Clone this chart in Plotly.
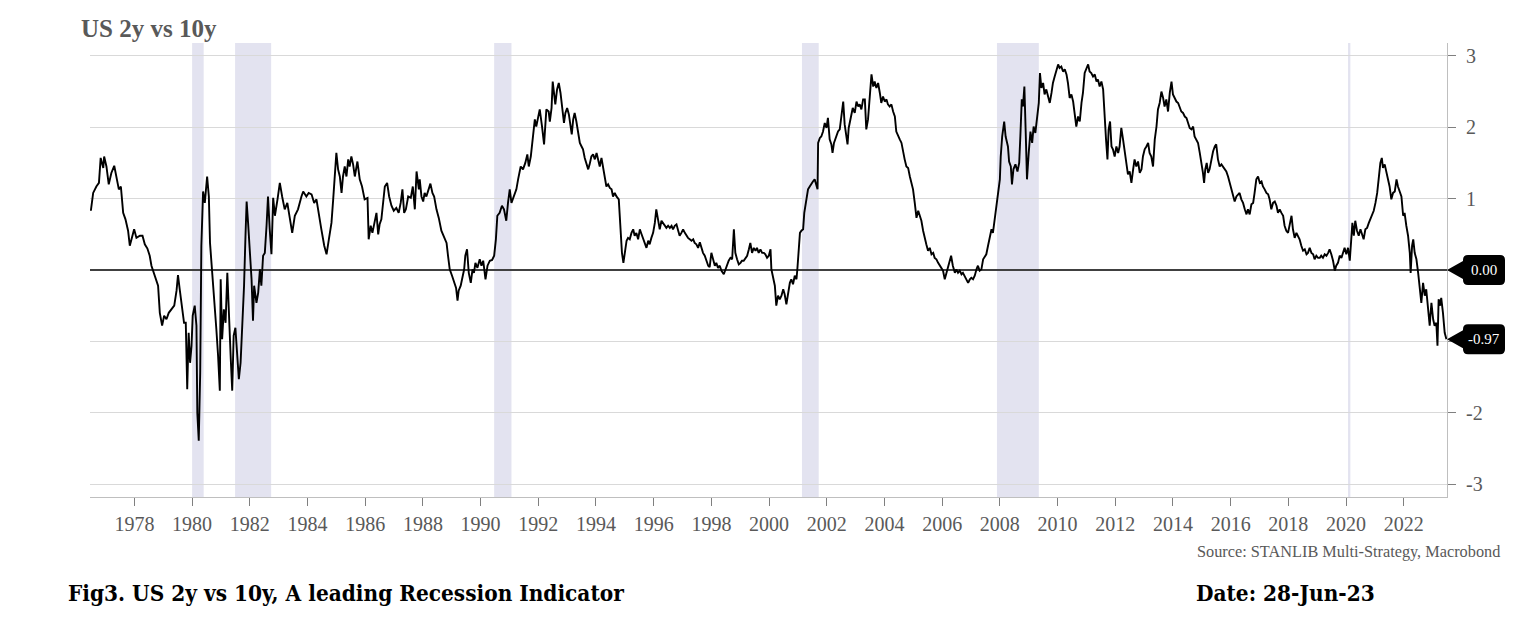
import plotly.graph_objects as go

# ---------------- data (decimal year, spread in %-points) ----------------
SPREAD_1976_1984 = [
    (1976.49, 0.83), (1976.57, 1.08), (1976.68, 1.17), (1976.77, 1.22), (1976.83, 1.57), (1976.92, 1.43),
    (1976.95, 1.59), (1977.03, 1.45), (1977.11, 1.20), (1977.20, 1.36), (1977.30, 1.46), (1977.38, 1.27),
    (1977.46, 1.13), (1977.53, 1.17), (1977.61, 0.80), (1977.69, 0.71), (1977.78, 0.55), (1977.84, 0.34),
    (1977.90, 0.43), (1977.99, 0.57), (1978.07, 0.45), (1978.19, 0.48), (1978.28, 0.48), (1978.36, 0.36),
    (1978.45, 0.30), (1978.53, 0.20), (1978.59, 0.06), (1978.68, -0.04), (1978.76, -0.15), (1978.82, -0.22),
    (1978.88, -0.60), (1978.96, -0.78), (1979.03, -0.64), (1979.11, -0.69), (1979.19, -0.60), (1979.28, -0.55),
    (1979.38, -0.50), (1979.46, -0.29), (1979.51, -0.07), (1979.57, -0.27), (1979.63, -0.46), (1979.72, -0.74),
    (1979.78, -0.74), (1979.83, -1.67), (1979.88, -0.88), (1979.93, -1.30), (1979.98, -1.06), (1980.02, -0.64),
    (1980.09, -0.50), (1980.15, -0.78), (1980.18, -2.00), (1980.23, -2.39), (1980.28, -1.44), (1980.32, 0.34),
    (1980.38, 1.10), (1980.44, 0.94), (1980.52, 1.31), (1980.58, 1.03), (1980.62, 0.38), (1980.69, 0.01),
    (1980.76, -0.32), (1980.84, -0.83), (1980.90, -1.20), (1980.96, -1.69), (1980.99, -0.13), (1981.04, -0.97),
    (1981.10, -0.55), (1981.16, -0.74), (1981.22, -0.04), (1981.28, -0.74), (1981.34, -1.25), (1981.39, -1.69),
    (1981.44, -0.92), (1981.50, -0.81), (1981.56, -1.20), (1981.62, -1.53), (1981.68, -1.30), (1981.73, -0.88),
    (1981.80, -0.22), (1981.85, 0.48), (1981.89, 0.96), (1981.94, 0.66), (1982.00, 0.24), (1982.06, -0.13),
    (1982.11, -0.71), (1982.15, -0.22), (1982.23, -0.46), (1982.29, -0.32), (1982.35, 0.01), (1982.40, -0.22),
    (1982.46, 0.20), (1982.52, 0.24), (1982.58, 0.62), (1982.63, 1.03), (1982.69, 0.57), (1982.75, 0.22),
    (1982.81, 1.01), (1982.87, 0.76), (1982.96, 0.99), (1983.04, 1.22), (1983.12, 1.03), (1983.21, 0.85),
    (1983.30, 0.94), (1983.39, 0.71), (1983.47, 0.52), (1983.56, 0.76), (1983.67, 0.85), (1983.79, 1.03),
    (1983.85, 1.10), (1983.96, 1.03), (1984.04, 1.08), (1984.14, 1.06), (1984.23, 0.94), (1984.31, 0.99),
    (1984.43, 0.66),
]
SPREAD_1984_1992 = [
    (1984.48, 0.57), (1984.58, 0.34), (1984.66, 0.22), (1984.74, 0.43), (1984.83, 0.66), (1984.89, 0.99),
    (1984.94, 1.31), (1985.00, 1.64), (1985.06, 1.41), (1985.12, 1.31), (1985.18, 1.08), (1985.23, 1.31),
    (1985.29, 1.45), (1985.35, 1.31), (1985.41, 1.55), (1985.46, 1.45), (1985.52, 1.59), (1985.58, 1.48),
    (1985.64, 1.31), (1985.73, 1.52), (1985.81, 1.27), (1985.89, 1.17), (1985.98, 0.99), (1986.08, 1.01),
    (1986.12, 0.43), (1986.19, 0.62), (1986.25, 0.52), (1986.33, 0.69), (1986.39, 0.80), (1986.45, 0.50),
    (1986.50, 0.64), (1986.56, 0.71), (1986.62, 0.90), (1986.68, 1.17), (1986.76, 1.22), (1986.83, 1.03),
    (1986.91, 0.90), (1986.99, 0.83), (1987.08, 0.87), (1987.16, 0.80), (1987.23, 0.94), (1987.29, 1.13),
    (1987.35, 0.80), (1987.41, 0.85), (1987.49, 1.03), (1987.58, 1.01), (1987.65, 1.17), (1987.72, 0.85),
    (1987.78, 1.38), (1987.86, 1.13), (1987.89, 1.27), (1987.95, 1.03), (1988.01, 0.96), (1988.06, 1.08),
    (1988.12, 1.03), (1988.18, 1.10), (1988.26, 1.21), (1988.33, 1.08), (1988.39, 1.03), (1988.47, 0.85),
    (1988.55, 0.73), (1988.64, 0.55), (1988.76, 0.43), (1988.82, 0.38), (1988.87, 0.20), (1988.93, 0.01),
    (1989.01, -0.08), (1989.08, -0.18), (1989.15, -0.25), (1989.20, -0.43), (1989.24, -0.29), (1989.31, -0.22),
    (1989.36, -0.13), (1989.43, 0.01), (1989.47, 0.20), (1989.53, 0.29), (1989.59, -0.04), (1989.66, -0.18),
    (1989.72, 0.01), (1989.77, -0.04), (1989.82, 0.10), (1989.89, 0.03), (1989.97, 0.15), (1990.03, 0.06),
    (1990.09, 0.13), (1990.17, -0.13), (1990.24, 0.06), (1990.32, 0.13), (1990.40, 0.14), (1990.47, 0.20),
    (1990.53, 0.43), (1990.58, 0.76), (1990.66, 0.80), (1990.74, 0.90), (1990.81, 0.85), (1990.89, 0.69),
    (1990.95, 0.94), (1991.01, 1.13), (1991.07, 0.94), (1991.16, 1.03), (1991.24, 1.13), (1991.30, 1.27),
    (1991.39, 1.45), (1991.47, 1.41), (1991.55, 1.50), (1991.62, 1.62), (1991.67, 1.45), (1991.74, 1.59),
    (1991.82, 1.87), (1991.88, 2.11), (1991.93, 2.01), (1991.99, 2.15), (1992.05, 2.25), (1992.13, 2.01),
    (1992.20, 1.76), (1992.28, 2.25), (1992.36, 2.22),
]
SPREAD_1992_2000 = [
    (1992.40, 2.08), (1992.46, 2.27), (1992.50, 2.64), (1992.55, 2.39), (1992.59, 2.32), (1992.65, 2.53),
    (1992.71, 2.62), (1992.77, 2.48), (1992.83, 2.29), (1992.89, 2.06), (1992.94, 2.20), (1993.00, 2.27),
    (1993.06, 2.18), (1993.11, 2.06), (1993.16, 1.90), (1993.21, 2.11), (1993.26, 2.20), (1993.32, 2.08),
    (1993.38, 1.92), (1993.44, 1.78), (1993.50, 1.73), (1993.55, 1.69), (1993.61, 1.57), (1993.67, 1.50),
    (1993.73, 1.41), (1993.78, 1.48), (1993.84, 1.59), (1993.90, 1.62), (1993.96, 1.55), (1994.02, 1.64),
    (1994.07, 1.55), (1994.13, 1.45), (1994.19, 1.57), (1994.25, 1.41), (1994.30, 1.27), (1994.36, 1.17),
    (1994.42, 1.20), (1994.48, 1.15), (1994.54, 1.13), (1994.59, 1.03), (1994.65, 1.08), (1994.71, 1.03),
    (1994.79, 0.99), (1994.85, 0.62), (1994.90, 0.24), (1994.95, 0.10), (1995.00, 0.24), (1995.06, 0.41),
    (1995.11, 0.45), (1995.17, 0.43), (1995.23, 0.52), (1995.29, 0.57), (1995.34, 0.48), (1995.40, 0.52),
    (1995.46, 0.43), (1995.52, 0.57), (1995.58, 0.50), (1995.63, 0.45), (1995.69, 0.38), (1995.75, 0.31),
    (1995.81, 0.41), (1995.86, 0.36), (1995.92, 0.45), (1995.98, 0.52), (1996.04, 0.66), (1996.09, 0.85),
    (1996.15, 0.71), (1996.21, 0.57), (1996.27, 0.69), (1996.33, 0.66), (1996.38, 0.62), (1996.44, 0.59),
    (1996.50, 0.62), (1996.56, 0.59), (1996.62, 0.62), (1996.67, 0.57), (1996.73, 0.62), (1996.79, 0.64),
    (1996.85, 0.55), (1996.90, 0.48), (1996.96, 0.52), (1997.02, 0.57), (1997.08, 0.52), (1997.13, 0.48),
    (1997.19, 0.45), (1997.25, 0.43), (1997.31, 0.41), (1997.37, 0.43), (1997.42, 0.38), (1997.48, 0.36),
    (1997.54, 0.31), (1997.60, 0.39), (1997.65, 0.31), (1997.71, 0.24), (1997.77, 0.20), (1997.83, 0.13),
    (1997.89, 0.06), (1997.94, 0.04), (1998.00, 0.24), (1998.06, 0.15), (1998.12, 0.06), (1998.17, 0.10),
    (1998.23, 0.03), (1998.29, 0.06), (1998.35, -0.01), (1998.43, -0.06), (1998.49, 0.01), (1998.54, 0.06),
    (1998.60, 0.13), (1998.66, 0.17), (1998.72, 0.15), (1998.78, 0.57), (1998.83, 0.24), (1998.89, 0.15),
    (1998.95, 0.08), (1999.01, 0.10), (1999.06, 0.13), (1999.12, 0.13), (1999.18, 0.17), (1999.24, 0.20),
    (1999.30, 0.29), (1999.35, 0.38), (1999.41, 0.24), (1999.47, 0.31), (1999.53, 0.27), (1999.58, 0.31),
    (1999.64, 0.24), (1999.70, 0.29), (1999.76, 0.24), (1999.82, 0.24), (1999.87, 0.22), (1999.93, 0.17),
    (1999.99, 0.20), (2000.05, 0.29), (2000.08, 0.01), (2000.14, -0.13), (2000.20, -0.22), (2000.25, -0.50),
    (2000.31, -0.36),
]
SPREAD_2000_2008 = [
    (2000.37, -0.41), (2000.43, -0.36), (2000.49, -0.27), (2000.54, -0.34), (2000.60, -0.48), (2000.66, -0.32),
    (2000.72, -0.18), (2000.77, -0.13), (2000.83, -0.20), (2000.89, -0.08), (2000.95, -0.13), (2000.98, 0.01),
    (2001.03, 0.34), (2001.07, 0.52), (2001.12, 0.55), (2001.18, 0.57), (2001.22, 0.80), (2001.29, 0.99),
    (2001.35, 1.13), (2001.41, 1.17), (2001.47, 1.22), (2001.52, 1.24), (2001.58, 1.27), (2001.64, 1.17),
    (2001.68, 1.13), (2001.70, 1.78), (2001.76, 1.85), (2001.81, 1.87), (2001.87, 1.94), (2001.93, 2.06),
    (2001.99, 1.99), (2002.04, 2.13), (2002.10, 1.83), (2002.16, 1.76), (2002.20, 1.64), (2002.25, 1.78),
    (2002.33, 1.87), (2002.39, 1.94), (2002.45, 1.97), (2002.51, 2.15), (2002.57, 2.36), (2002.62, 2.04),
    (2002.68, 1.90), (2002.72, 1.76), (2002.76, 1.99), (2002.83, 2.15), (2002.90, 2.27), (2002.97, 2.20),
    (2003.03, 2.36), (2003.09, 2.29), (2003.14, 2.32), (2003.20, 2.25), (2003.26, 2.39), (2003.32, 2.39),
    (2003.37, 1.97), (2003.43, 2.11), (2003.49, 2.39), (2003.55, 2.74), (2003.61, 2.57), (2003.66, 2.64),
    (2003.72, 2.55), (2003.78, 2.62), (2003.84, 2.48), (2003.89, 2.34), (2003.95, 2.43), (2004.01, 2.36),
    (2004.07, 2.39), (2004.12, 2.32), (2004.18, 2.29), (2004.24, 2.32), (2004.30, 2.22), (2004.36, 2.15),
    (2004.41, 1.94), (2004.47, 1.87), (2004.53, 1.83), (2004.59, 1.78), (2004.64, 1.66), (2004.70, 1.55),
    (2004.76, 1.45), (2004.82, 1.43), (2004.88, 1.31), (2004.93, 1.22), (2004.99, 1.13), (2005.05, 0.94),
    (2005.11, 0.73), (2005.17, 0.83), (2005.22, 0.76), (2005.28, 0.69), (2005.34, 0.55), (2005.40, 0.43),
    (2005.45, 0.36), (2005.51, 0.27), (2005.57, 0.31), (2005.63, 0.22), (2005.69, 0.24), (2005.74, 0.17),
    (2005.80, 0.15), (2005.86, 0.10), (2005.92, 0.06), (2005.97, 0.01), (2006.03, -0.01), (2006.09, -0.13),
    (2006.15, -0.04), (2006.20, 0.01), (2006.26, 0.10), (2006.31, 0.20), (2006.37, 0.06), (2006.44, -0.04),
    (2006.49, 0.01), (2006.55, -0.04), (2006.61, -0.01), (2006.67, -0.06), (2006.72, -0.04), (2006.78, -0.08),
    (2006.84, -0.13), (2006.90, -0.18), (2006.96, -0.13), (2007.01, -0.11), (2007.07, -0.13), (2007.13, -0.08),
    (2007.19, 0.01), (2007.24, 0.06), (2007.30, -0.01), (2007.36, 0.01), (2007.42, 0.15), (2007.48, 0.20),
    (2007.53, 0.22), (2007.59, 0.34), (2007.65, 0.48), (2007.71, 0.57), (2007.76, 0.52), (2007.82, 0.71),
    (2007.88, 0.90), (2007.94, 1.03), (2008.00, 1.27), (2008.03, 1.59), (2008.08, 1.87), (2008.15, 2.08),
    (2008.20, 1.87),
]
SPREAD_2008_2016 = [
    (2008.28, 1.73), (2008.32, 1.52), (2008.38, 1.45), (2008.42, 1.20), (2008.47, 1.41), (2008.54, 1.48),
    (2008.61, 1.38), (2008.67, 1.50), (2008.71, 1.87), (2008.76, 2.39), (2008.80, 2.29), (2008.85, 2.57),
    (2008.90, 1.87), (2008.94, 1.27), (2009.00, 1.64), (2009.06, 1.94), (2009.12, 1.78), (2009.17, 2.01),
    (2009.23, 1.92), (2009.29, 2.15), (2009.35, 2.34), (2009.39, 2.76), (2009.44, 2.55), (2009.50, 2.62),
    (2009.55, 2.46), (2009.61, 2.53), (2009.67, 2.41), (2009.73, 2.34), (2009.79, 2.48), (2009.84, 2.62),
    (2009.90, 2.71), (2009.96, 2.78), (2010.02, 2.88), (2010.07, 2.83), (2010.13, 2.85), (2010.19, 2.78),
    (2010.25, 2.81), (2010.31, 2.74), (2010.36, 2.62), (2010.42, 2.41), (2010.48, 2.46), (2010.54, 2.36),
    (2010.59, 2.22), (2010.65, 2.01), (2010.71, 2.15), (2010.77, 2.08), (2010.83, 2.34), (2010.88, 2.48),
    (2010.94, 2.76), (2011.00, 2.81), (2011.06, 2.88), (2011.11, 2.78), (2011.17, 2.76), (2011.23, 2.71),
    (2011.29, 2.74), (2011.35, 2.64), (2011.40, 2.67), (2011.46, 2.57), (2011.52, 2.64), (2011.58, 2.53),
    (2011.63, 2.11), (2011.68, 1.83), (2011.73, 1.55), (2011.77, 1.97), (2011.82, 2.08), (2011.87, 1.73),
    (2011.92, 1.69), (2011.98, 1.59), (2012.04, 1.73), (2012.10, 1.64), (2012.15, 1.73), (2012.21, 1.99),
    (2012.27, 1.83), (2012.33, 1.64), (2012.39, 1.45), (2012.44, 1.34), (2012.50, 1.38), (2012.56, 1.22),
    (2012.62, 1.41), (2012.67, 1.55), (2012.73, 1.45), (2012.79, 1.52), (2012.85, 1.36), (2012.91, 1.41),
    (2012.96, 1.59), (2013.02, 1.69), (2013.08, 1.73), (2013.14, 1.78), (2013.19, 1.64), (2013.25, 1.59),
    (2013.31, 1.45), (2013.37, 1.83), (2013.43, 2.01), (2013.48, 2.25), (2013.54, 2.34), (2013.60, 2.50),
    (2013.66, 2.41), (2013.71, 2.29), (2013.77, 2.39), (2013.83, 2.22), (2013.89, 2.48), (2013.95, 2.64),
    (2014.00, 2.46), (2014.06, 2.41), (2014.12, 2.36), (2014.18, 2.34), (2014.23, 2.29), (2014.29, 2.22),
    (2014.35, 2.20), (2014.41, 2.15), (2014.47, 2.13), (2014.52, 2.06), (2014.58, 1.99), (2014.64, 1.97),
    (2014.70, 2.01), (2014.75, 1.87), (2014.81, 1.83), (2014.87, 1.78), (2014.93, 1.64), (2014.99, 1.50),
    (2015.04, 1.36), (2015.08, 1.22), (2015.12, 1.41), (2015.17, 1.50), (2015.22, 1.36), (2015.27, 1.41),
    (2015.33, 1.55), (2015.39, 1.66), (2015.45, 1.73), (2015.50, 1.76), (2015.56, 1.55), (2015.62, 1.45),
    (2015.68, 1.48), (2015.74, 1.45), (2015.79, 1.41), (2015.85, 1.38), (2015.91, 1.31), (2015.97, 1.22),
    (2016.02, 1.17), (2016.08, 1.08), (2016.14, 0.96), (2016.20, 1.03),
]
SPREAD_2016_2023 = [
    (2016.26, 1.06), (2016.31, 1.08), (2016.37, 0.99), (2016.43, 0.94), (2016.49, 0.85), (2016.55, 0.78),
    (2016.60, 0.85), (2016.66, 0.78), (2016.72, 0.92), (2016.78, 0.94), (2016.83, 1.08), (2016.89, 1.27),
    (2016.95, 1.31), (2017.01, 1.22), (2017.07, 1.24), (2017.12, 1.17), (2017.18, 1.13), (2017.24, 1.08),
    (2017.30, 1.06), (2017.35, 0.99), (2017.41, 0.85), (2017.47, 0.94), (2017.53, 0.96), (2017.59, 0.90),
    (2017.64, 0.80), (2017.70, 0.85), (2017.76, 0.80), (2017.82, 0.76), (2017.87, 0.62), (2017.93, 0.55),
    (2017.99, 0.52), (2018.05, 0.62), (2018.11, 0.76), (2018.16, 0.57), (2018.22, 0.45), (2018.28, 0.52),
    (2018.34, 0.48), (2018.39, 0.43), (2018.45, 0.34), (2018.51, 0.27), (2018.57, 0.29), (2018.63, 0.22),
    (2018.68, 0.24), (2018.74, 0.31), (2018.80, 0.24), (2018.86, 0.22), (2018.91, 0.15), (2018.97, 0.20),
    (2019.03, 0.17), (2019.09, 0.17), (2019.14, 0.20), (2019.20, 0.17), (2019.26, 0.22), (2019.32, 0.20),
    (2019.38, 0.24), (2019.43, 0.29), (2019.49, 0.22), (2019.55, 0.13), (2019.61, -0.01), (2019.66, 0.06),
    (2019.72, 0.10), (2019.78, 0.20), (2019.84, 0.17), (2019.90, 0.24), (2019.95, 0.31), (2020.01, 0.22),
    (2020.07, 0.31), (2020.13, 0.13), (2020.19, 0.43), (2020.22, 0.66), (2020.27, 0.48), (2020.32, 0.69),
    (2020.38, 0.55), (2020.44, 0.48), (2020.50, 0.57), (2020.55, 0.50), (2020.61, 0.43), (2020.67, 0.57),
    (2020.73, 0.59), (2020.79, 0.66), (2020.84, 0.71), (2020.90, 0.78), (2020.96, 0.83), (2021.02, 0.94),
    (2021.08, 1.08), (2021.13, 1.27), (2021.19, 1.50), (2021.24, 1.57), (2021.28, 1.43), (2021.34, 1.48),
    (2021.40, 1.38), (2021.46, 1.27), (2021.51, 1.17), (2021.57, 0.99), (2021.63, 1.08), (2021.69, 1.10),
    (2021.75, 1.27), (2021.80, 1.17), (2021.86, 1.08), (2021.92, 1.03), (2021.98, 0.76), (2022.03, 0.80),
    (2022.09, 0.62), (2022.15, 0.48), (2022.21, 0.24), (2022.24, -0.04), (2022.29, 0.34), (2022.33, 0.43),
    (2022.38, 0.24), (2022.44, 0.15), (2022.50, -0.04), (2022.55, -0.22), (2022.61, -0.46), (2022.67, -0.18),
    (2022.73, -0.36), (2022.78, -0.27), (2022.84, -0.50), (2022.90, -0.78), (2022.96, -0.46), (2023.02, -0.69),
    (2023.07, -0.78), (2023.13, -0.74), (2023.17, -1.06), (2023.21, -0.41), (2023.26, -0.50), (2023.30, -0.39),
    (2023.36, -0.60), (2023.42, -0.88), (2023.48, -0.97),
]

# recession periods (start, end) in decimal years
RECESSIONS = [(1980.00, 1980.40), (1981.49, 1982.74), (1990.47, 1991.07),
              (2001.14, 2001.72), (2007.90, 2009.35), (2020.07, 2020.15)]

X_TICKS = list(range(1978, 2023, 2))
X_TICK_LABELS = [str(y) for y in X_TICKS]
Y_TICKS = [-3, -2, -1, 0, 1, 2, 3]
Y_TICK_LABELS = ["-3", "-2", "", "", "1", "2", "3"]
TAG_VALUES = [0.0, -0.97]
TAG_LABELS = ["0.00", "-0.97"]
X_RANGE = [1976.46, 2023.50]
Y_RANGE = [-3.18, 3.18]

# ---------------- build ----------------
series = (SPREAD_1976_1984 + SPREAD_1984_1992 + SPREAD_1992_2000 +
          SPREAD_2000_2008 + SPREAD_2008_2016 + SPREAD_2016_2023)
years = [p[0] for p in series]
spread = [p[1] for p in series]

SERIF = "Liberation Serif, Times New Roman, serif"
CAPTION = "DejaVu Serif Condensed, DejaVu Serif, serif"
GREY = "#595959"

fig = go.Figure()
fig.add_trace(go.Scatter(x=years, y=spread, mode="lines",
                         line=dict(color="#000000", width=1.9),
                         hoverinfo="skip", showlegend=False))

shapes = []
for s, e in RECESSIONS:
    shapes.append(dict(type="rect", xref="x", yref="paper", x0=s, x1=e, y0=0, y1=1,
                       fillcolor="#e3e3f0", line=dict(width=0), layer="below"))

# value tags on the right axis
tag_path = ("M 0,0 L 16,9 L 16,10 Q 16,15 21,15 L 53,15 Q 58,15 58,10 "
            "L 58,-10 Q 58,-15 53,-15 L 21,-15 Q 16,-15 16,-10 L 16,-9 Z")
annotations = []
for v, lab in zip(TAG_VALUES, TAG_LABELS):
    shapes.append(dict(type="path", xref="paper", yref="y", xsizemode="pixel", ysizemode="pixel",
                       xanchor=1, yanchor=v, path=tag_path, fillcolor="#000000",
                       line=dict(width=0), layer="above"))
    annotations.append(dict(xref="paper", yref="y", x=1, y=v, xshift=37, xanchor="center",
                            yanchor="middle", text=lab, showarrow=False,
                            font=dict(family=SERIF, size=15, color="#ffffff")))

annotations += [
    dict(xref="paper", yref="paper", x=0, y=1, xshift=-11, yshift=15, xanchor="left",
         yanchor="middle", text="<b>US 2y vs 10y</b>", showarrow=False,
         font=dict(family=SERIF, size=25, color=GREY)),
    dict(xref="paper", yref="paper", x=1, y=0, xshift=55, yshift=-54, xanchor="right",
         yanchor="middle", text="Source: STANLIB Multi-Strategy, Macrobond", showarrow=False,
         font=dict(family=SERIF, size=16.3, color=GREY)),
    dict(xref="paper", yref="paper", x=0, y=0, xshift=-24, yshift=-96, xanchor="left",
         yanchor="middle", text="<b>Fig3. US 2y vs 10y, A leading Recession Indicator</b>",
         showarrow=False, font=dict(family=CAPTION, size=22.4, color="#000000")),
    dict(xref="paper", yref="paper", x=1, y=0, xshift=-253, yshift=-96, xanchor="left",
         yanchor="middle", text="<b>Date: 28-Jun-23</b>", showarrow=False,
         font=dict(family=CAPTION, size=22.4, color="#000000")),
]

fig.update_layout(
    width=1536, height=625,
    margin=dict(l=90, r=89, t=43, b=128),
    paper_bgcolor="#ffffff", plot_bgcolor="#ffffff",
    shapes=shapes, annotations=annotations,
    showlegend=False,
    xaxis=dict(range=X_RANGE, tickmode="array", tickvals=X_TICKS, ticktext=X_TICK_LABELS,
               showgrid=False, zeroline=False, showline=True, linecolor="#bfbfbf", linewidth=1,
               ticks="outside", ticklen=8, tickcolor="#7f7f7f", tickwidth=1,
               tickfont=dict(family=SERIF, size=20, color=GREY), tickangle=0,
               ticklabelstandoff=1),
    yaxis=dict(range=Y_RANGE, side="right", tickmode="array", tickvals=Y_TICKS,
               ticktext=Y_TICK_LABELS, showgrid=True, gridcolor="#d9d9d9", gridwidth=1,
               zeroline=True, zerolinecolor="#404040", zerolinewidth=1.5,
               showline=True, linecolor="#bfbfbf", linewidth=1,
               ticks="outside", ticklen=8, tickcolor="#7f7f7f", tickwidth=1,
               tickfont=dict(family=SERIF, size=20, color=GREY), ticklabelstandoff=6),
)

fig.write_html("out.html")
